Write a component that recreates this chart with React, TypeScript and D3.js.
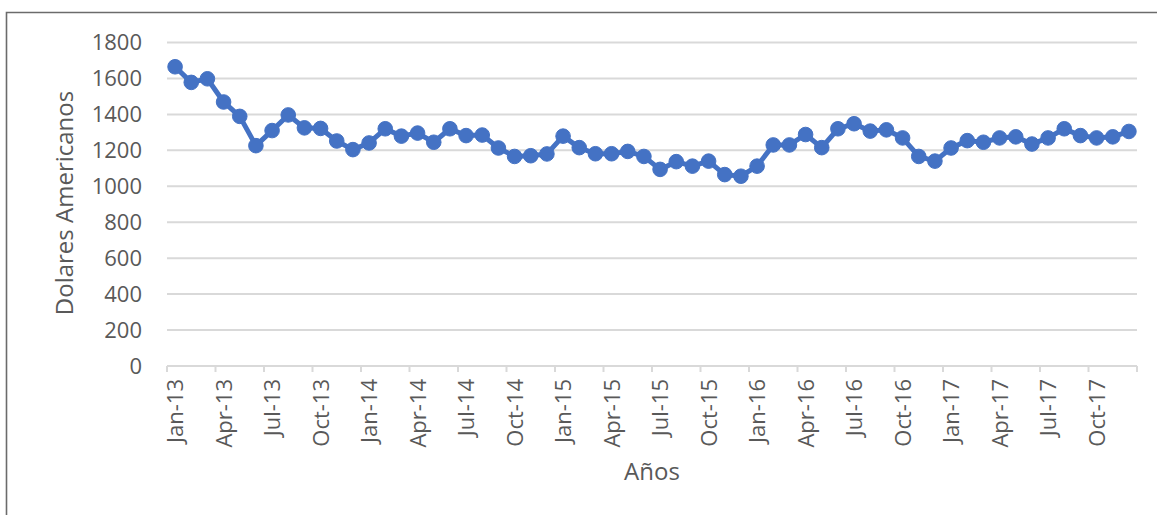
import React from "react";
import * as d3 from "d3";

const months: string[] = [
  "Jan-13","Feb-13","Mar-13","Apr-13","May-13","Jun-13","Jul-13","Aug-13","Sep-13","Oct-13","Nov-13","Dec-13",
  "Jan-14","Feb-14","Mar-14","Apr-14","May-14","Jun-14","Jul-14","Aug-14","Sep-14","Oct-14","Nov-14","Dec-14",
  "Jan-15","Feb-15","Mar-15","Apr-15","May-15","Jun-15","Jul-15","Aug-15","Sep-15","Oct-15","Nov-15","Dec-15",
  "Jan-16","Feb-16","Mar-16","Apr-16","May-16","Jun-16","Jul-16","Aug-16","Sep-16","Oct-16","Nov-16","Dec-16",
  "Jan-17","Feb-17","Mar-17","Apr-17","May-17","Jun-17","Jul-17","Aug-17","Sep-17","Oct-17","Nov-17","Dec-17",
];

const prices: number[] = [
  1665, 1578, 1598, 1469, 1389, 1226, 1310, 1397, 1325, 1322, 1252, 1204,
  1241, 1320, 1279, 1296, 1245, 1320, 1282, 1285, 1213, 1166, 1170, 1180,
  1279, 1215, 1181, 1181, 1194, 1166, 1094, 1137, 1112, 1140, 1065, 1056,
  1112, 1230, 1230, 1288, 1215, 1320, 1348, 1307, 1314, 1269, 1166, 1140,
  1213, 1254, 1245, 1269, 1275, 1235, 1269, 1320, 1282, 1269, 1275, 1305,
];

const tickLabels: string[] = [
  "Jan-13","Apr-13","Jul-13","Oct-13","Jan-14","Apr-14","Jul-14","Oct-14",
  "Jan-15","Apr-15","Jul-15","Oct-15","Jan-16","Apr-16","Jul-16","Oct-16",
  "Jan-17","Apr-17","Jul-17","Oct-17",
];

const yTicks: number[] = [0, 200, 400, 600, 800, 1000, 1200, 1400, 1600, 1800];

const W = 1157;
const H = 515;
const left = 167;
const right = 1137;
const top = 42.5;
const bottom = 366;
const FONT = "'Open Sans', 'Liberation Sans', sans-serif";
const TXT = "#595959";
const BLUE = "#4472C4";
const GRID = "#d9d9d9";

export default function App() {
  const x = d3.scaleBand<string>().domain(months).range([left, right]).paddingInner(0).paddingOuter(0);
  const y = d3.scaleLinear().domain([0, 1800]).range([bottom, top]);
  const bw = x.bandwidth();
  const cx = (m: string) => (x(m) as number) + bw / 2;

  const line = d3
    .line<number>()
    .x((_, i) => cx(months[i]))
    .y((d) => y(d))
    .curve(d3.curveLinear);

  const tickIdx = months.map((m, i) => i).filter((i) => i % 3 === 0);
  const tickXs = [...tickIdx.map((i) => x(months[i]) as number), right];

  return (
    <svg
      width={W}
      height={H}
      style={{ position: "absolute", left: 0, top: 0, background: "#fff" }}
      fontFamily={FONT}
    >
      <rect x={0} y={0} width={W} height={H} fill="#fff" />
      {/* frame */}
      <path d={`M6.5,${H} V12.5 H${W}`} fill="none" stroke="#6b6b6b" strokeWidth={1.6} />

      {/* gridlines */}
      {yTicks.filter((t) => t > 0).map((t) => (
        <line key={t} x1={left} x2={right} y1={y(t)} y2={y(t)} stroke={GRID} strokeWidth={2} />
      ))}

      {/* x axis */}
      <line x1={left} x2={right} y1={y(0)} y2={y(0)} stroke={GRID} strokeWidth={2} />
      {tickXs.map((tx, i) => (
        <line key={i} x1={tx} x2={tx} y1={y(0)} y2={y(0) + 6} stroke={GRID} strokeWidth={2} />
      ))}

      {/* y tick labels */}
      {yTicks.map((t) => (
        <text
          key={t}
          x={142}
          y={y(t)}
          dy="0.36em"
          textAnchor="end"
          fontSize={22}
          fill={TXT}
        >
          {t}
        </text>
      ))}

      {/* x tick labels */}
      {tickLabels.map((lab) => (
        <text
          key={lab}
          transform={`translate(${cx(lab) + 8},379) rotate(-90)`}
          textAnchor="end"
          fontSize={22}
          fill={TXT}
        >
          {lab}
        </text>
      ))}

      {/* axis titles */}
      <text
        transform={`translate(73,203) rotate(-90)`}
        textAnchor="middle"
        fontSize={24}
        fill={TXT}
      >
        Dolares Americanos
      </text>
      <text x={652} y={480} textAnchor="middle" fontSize={24} fill={TXT}>
        Años
      </text>

      {/* series */}
      <path d={line(prices) || ""} fill="none" stroke={BLUE} strokeWidth={5} strokeLinejoin="round" />
      {prices.map((v, i) => (
        <circle key={i} cx={cx(months[i])} cy={y(v)} r={7.3} fill={BLUE} stroke={BLUE} strokeWidth={1} />
      ))}
    </svg>
  );
}
